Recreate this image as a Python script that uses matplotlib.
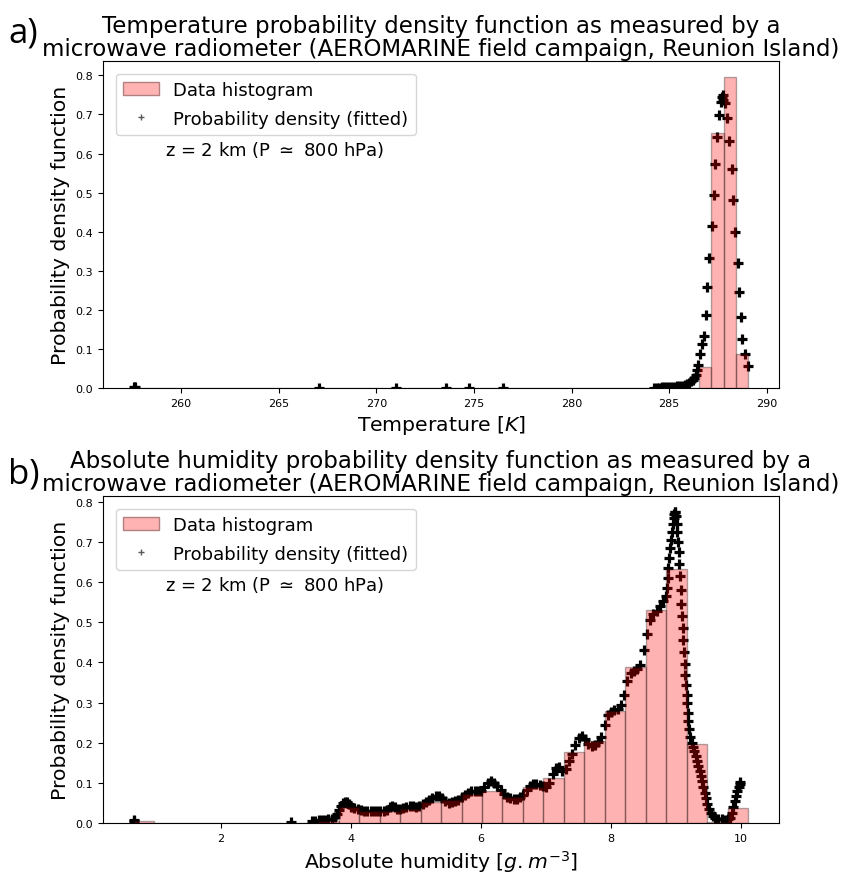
import numpy as np
import matplotlib
matplotlib.use("Agg")
import matplotlib.pyplot as plt
from matplotlib.patches import Patch
from matplotlib.lines import Line2D

# ---------------- data: panel a (temperature) ----------------
temp_range = (257.57, 289.05)
temp_nbins = 50
temp_hist = [0.0] * 46 + [0.054, 0.653, 0.797, 0.088]

temp_x = [257.57, 257.62, 267.08, 271.0, 273.56, 274.74, 276.5,
          284.2, 284.35, 284.5, 284.65, 284.8, 284.95, 285.1, 285.25, 285.4,
          285.55, 285.7, 285.8, 285.9, 286.0, 286.1, 286.2, 286.28, 286.35,
          286.42, 286.48, 286.57, 286.67, 286.76, 286.86, 286.93, 287.06,
          287.2, 287.27, 287.37, 287.43, 287.55, 287.64, 287.70, 287.73,
          287.77, 287.88, 287.95, 288.07, 288.19, 288.25, 288.36, 288.50,
          288.58, 288.67, 288.75, 288.86, 289.01]
temp_y = [0.002, 0.003, 0.0, 0.0, 0.0, 0.0, 0.0,
          0.001, 0.001, 0.001, 0.002, 0.002, 0.002, 0.003, 0.003, 0.004,
          0.005, 0.006, 0.008, 0.010, 0.013, 0.017, 0.021, 0.026, 0.033,
          0.045, 0.060, 0.088, 0.113, 0.133, 0.186, 0.258, 0.333,
          0.414, 0.495, 0.574, 0.642, 0.698, 0.733, 0.745, 0.750,
          0.738, 0.730, 0.691, 0.631, 0.560, 0.480, 0.400, 0.321,
          0.246, 0.182, 0.126, 0.088, 0.056]

# ---------------- data: panel b (absolute humidity) ----------------
hum_range = (0.656, 10.11)
hum_nbins = 30
hum_hist = [0.004, 0, 0, 0, 0, 0, 0, 0, 0, 0.006,
            0.040, 0.029, 0.030, 0.034, 0.052, 0.057, 0.072, 0.080, 0.064, 0.090,
            0.112, 0.176, 0.205, 0.280, 0.390, 0.530, 0.632, 0.197, 0.003, 0.038]

hum_x = [0.656, 0.66, 3.08,
         3.40, 3.45, 3.50, 3.55, 3.60, 3.65, 3.70, 3.75, 3.78, 3.81, 3.84, 3.87,
         3.90, 3.93, 3.96, 4.00, 4.05, 4.10, 4.15, 4.20, 4.25, 4.30, 4.35, 4.40,
         4.45, 4.50, 4.55, 4.60, 4.63, 4.67, 4.71, 4.75, 4.80, 4.85, 4.90, 4.95,
         5.00, 5.05, 5.10, 5.15, 5.20, 5.25, 5.30, 5.35, 5.40, 5.45, 5.50, 5.55,
         5.60, 5.65, 5.70, 5.75, 5.80, 5.85, 5.90, 5.95, 6.00, 6.05, 6.10, 6.15,
         6.20, 6.25, 6.30, 6.35, 6.40, 6.45, 6.50, 6.55, 6.60, 6.65, 6.70, 6.75,
         6.80, 6.85, 6.90, 6.95, 7.00, 7.05, 7.10, 7.15, 7.20, 7.25, 7.30, 7.35,
         7.40, 7.45, 7.50, 7.55, 7.60, 7.65, 7.70, 7.75, 7.80, 7.85, 7.90, 7.95,
         8.00, 8.05, 8.10, 8.15, 8.20, 8.25, 8.30, 8.35, 8.40, 8.45, 8.50, 8.55,
         8.60, 8.65, 8.70, 8.75, 8.80, 8.84,
         8.86, 8.87, 8.88, 8.89, 8.91, 8.92, 8.93, 8.95, 8.96, 8.97, 8.98, 8.99,
         9.00, 9.01, 9.02, 9.03, 9.04, 9.05, 9.06, 9.07, 9.08, 9.09, 9.10, 9.11,
         9.12, 9.13, 9.14, 9.15, 9.16, 9.17, 9.18, 9.19, 9.20, 9.22, 9.24, 9.26,
         9.28, 9.30, 9.32, 9.34, 9.36, 9.38, 9.40, 9.42, 9.44, 9.46, 9.48, 9.50,
         9.53, 9.56, 9.60, 9.65, 9.70, 9.75, 9.80, 9.83, 9.86, 9.88, 9.90, 9.92,
         9.94, 9.96, 9.98, 9.99]
hum_y = [0.007, 0.006, 0.002,
         0.004, 0.005, 0.007, 0.008, 0.008, 0.009, 0.010, 0.015, 0.022, 0.032, 0.042, 0.049,
         0.053, 0.052, 0.047, 0.041, 0.037, 0.034, 0.033, 0.031, 0.031, 0.030, 0.030, 0.029,
         0.030, 0.030, 0.033, 0.040, 0.043, 0.040, 0.034, 0.034, 0.037, 0.040, 0.043, 0.043,
         0.041, 0.043, 0.047, 0.052, 0.057, 0.062, 0.067, 0.068, 0.063, 0.055, 0.051, 0.052,
         0.055, 0.058, 0.064, 0.070, 0.075, 0.079, 0.080, 0.079, 0.080, 0.090, 0.100, 0.104,
         0.100, 0.093, 0.083, 0.072, 0.065, 0.062, 0.060, 0.061, 0.064, 0.070, 0.082, 0.092,
         0.097, 0.098, 0.095, 0.092, 0.090, 0.100, 0.122, 0.138, 0.140, 0.130, 0.135, 0.155,
         0.172, 0.195, 0.212, 0.216, 0.210, 0.197, 0.192, 0.194, 0.202, 0.215, 0.245, 0.270,
         0.277, 0.281, 0.285, 0.295, 0.320, 0.355, 0.375, 0.380, 0.385, 0.393, 0.430, 0.470,
         0.505, 0.520, 0.528, 0.540, 0.552, 0.565,
         0.585, 0.610, 0.635, 0.660, 0.685, 0.705, 0.725, 0.745, 0.760, 0.770, 0.776, 0.775,
         0.765, 0.745, 0.725, 0.700, 0.675, 0.645, 0.615, 0.580, 0.545, 0.515, 0.485, 0.455,
         0.425, 0.395, 0.370, 0.345, 0.320, 0.300, 0.275, 0.255, 0.235, 0.215, 0.200, 0.190,
         0.180, 0.168, 0.155, 0.143, 0.130, 0.117, 0.104, 0.090, 0.076, 0.062, 0.048, 0.036,
         0.025, 0.018, 0.013, 0.010, 0.009, 0.008, 0.009, 0.012, 0.025, 0.040, 0.055, 0.068,
         0.080, 0.090, 0.098, 0.102]

titles = ["Temperature probability density function as measured by a\n"
          "microwave radiometer (AEROMARINE field campaign, Reunion Island)",
          "Absolute humidity probability density function as measured by a\n"
          "microwave radiometer (AEROMARINE field campaign, Reunion Island)"]
xlabels = ["Temperature $[K]$", "Absolute humidity $[g.m^{-3}]$"]
ylabel = "Probability density function"
annot = "z = 2 km (P $\\simeq$ 800 hPa)"
legend_labels = ["Data histogram", "Probability density (fitted)"]
panel_letters = ["a)", "b)"]

fig = plt.figure(figsize=(8.41, 8.78), dpi=100)
ax_a = fig.add_axes([0.1225, 0.557, 0.8038, 0.3724])
ax_b = fig.add_axes([0.1225, 0.0615, 0.8038, 0.3724])

panels = [
    (ax_a, temp_x, temp_y, temp_hist, temp_range, temp_nbins),
    (ax_b, hum_x, hum_y, hum_hist, hum_range, hum_nbins),
]

for i, (ax, px, py, hh, rng, nb) in enumerate(panels):
    edges = np.linspace(rng[0], rng[1], nb + 1)
    centers = 0.5 * (edges[:-1] + edges[1:])
    ax.scatter(px, py, marker='+', s=45, linewidths=2.3, color='black', zorder=1)
    ax.hist(centers, bins=edges, weights=hh, color='red', alpha=0.3,
            edgecolor='black', linewidth=1.0, zorder=2)
    ax.set_title(titles[i], fontsize=16.5, pad=4, linespacing=1.05)
    ax.set_xlabel(xlabels[i], fontsize=14.7)
    ax.set_ylabel(ylabel, fontsize=14.7)
    ax.tick_params(labelsize=8)
    handles = [Patch(facecolor=(1, 0.7, 0.7), edgecolor=(0.7, 0.5, 0.5), linewidth=1.0),
               Line2D([], [], marker='+', linestyle='none', color='0.35',
                      markersize=5, markeredgewidth=1.0)]
    ax.legend(handles, legend_labels, loc='upper left', fontsize=13,
              borderaxespad=0.7, handlelength=2.0, labelspacing=0.6)
    ax.text(0.092, 0.73, annot, transform=ax.transAxes, fontsize=13,
            ha='left', va='center')

fig.text(0.010, 0.962, panel_letters[0], fontsize=25, family='Open Sans', va='center')
fig.text(0.010, 0.459, panel_letters[1], fontsize=25, family='Open Sans', va='center')

fig.savefig("out.png", dpi=100)
